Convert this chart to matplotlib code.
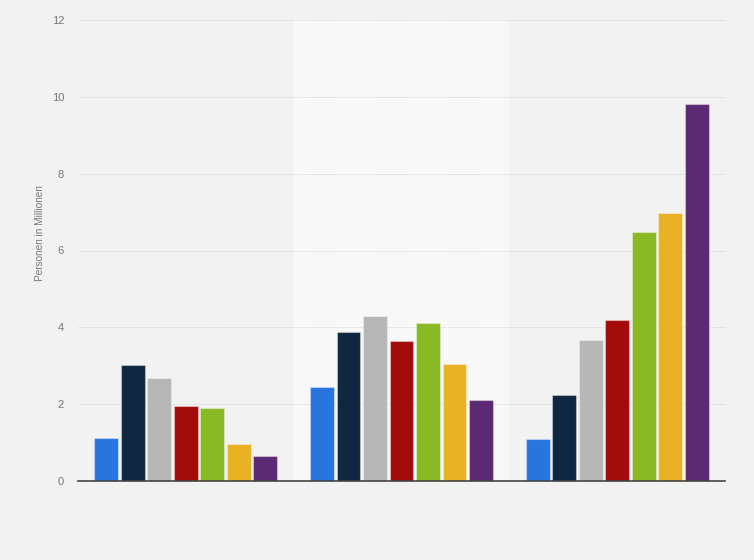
import matplotlib
matplotlib.use("Agg")
import matplotlib.pyplot as plt
import numpy as np

groups = ["Gruppe 1", "Gruppe 2", "Gruppe 3"]
series_colors = ["#2876dd", "#0f2741", "#b7b7b7", "#a30b0b", "#89b925", "#e9b224", "#5c2a72"]
values = [
    [1.12, 2.45, 1.09],
    [3.02, 3.88, 2.24],
    [2.68, 4.30, 3.68],
    [1.95, 3.65, 4.20],
    [1.90, 4.11, 6.48],
    [0.96, 3.05, 6.97],
    [0.65, 2.11, 9.81],
]
yticks = [0, 2, 4, 6, 8, 10, 12]
ylabel = "Personen in Millionen"

plt.rcParams["font.family"] = ["Liberation Sans", "DejaVu Sans"]

bg = "#f2f2f2"
fig = plt.figure(figsize=(7.54, 5.6), dpi=100, facecolor=bg)
ax = fig.add_axes([78/754, 79/560, 647/754, 461/560])
ax.set_facecolor(bg)

n = len(values)
step = 0.86 / n
width = step * 0.9
x = np.arange(len(groups))

# lighter middle band
ax.axvspan(0.5, 1.5, color="#f8f8f8", zorder=0, lw=0)

for i, (vals, c) in enumerate(zip(values, series_colors)):
    offs = (i - (n - 1) / 2) * step
    ax.bar(x + offs, vals, width=width, color=c, zorder=3,
           edgecolor=(1, 1, 1, 0.35), linewidth=0.8)

ax.set_xlim(-0.5, 2.5)
ax.set_ylim(0, 12)
ax.set_yticks(yticks)
ax.set_yticklabels([str(t) for t in yticks], fontsize=8, color="#777777")
ax.set_xticks([])
ax.tick_params(axis="y", length=0, pad=10)
ax.grid(axis="y", color="#d6d6d6", linestyle=(0, (1, 1)), linewidth=0.7, zorder=1)
for s in ["top", "right", "left"]:
    ax.spines[s].set_visible(False)
ax.spines["bottom"].set_color("#444444")
ax.spines["bottom"].set_linewidth(1.2)
ax.spines["bottom"].set_zorder(4)
ax.set_ylabel(ylabel, fontsize=7.2, color="#777777")
ax.yaxis.set_label_coords(-33/647, (481 - 233) / 461)

fig.savefig("out.png", dpi=100, facecolor=bg)
